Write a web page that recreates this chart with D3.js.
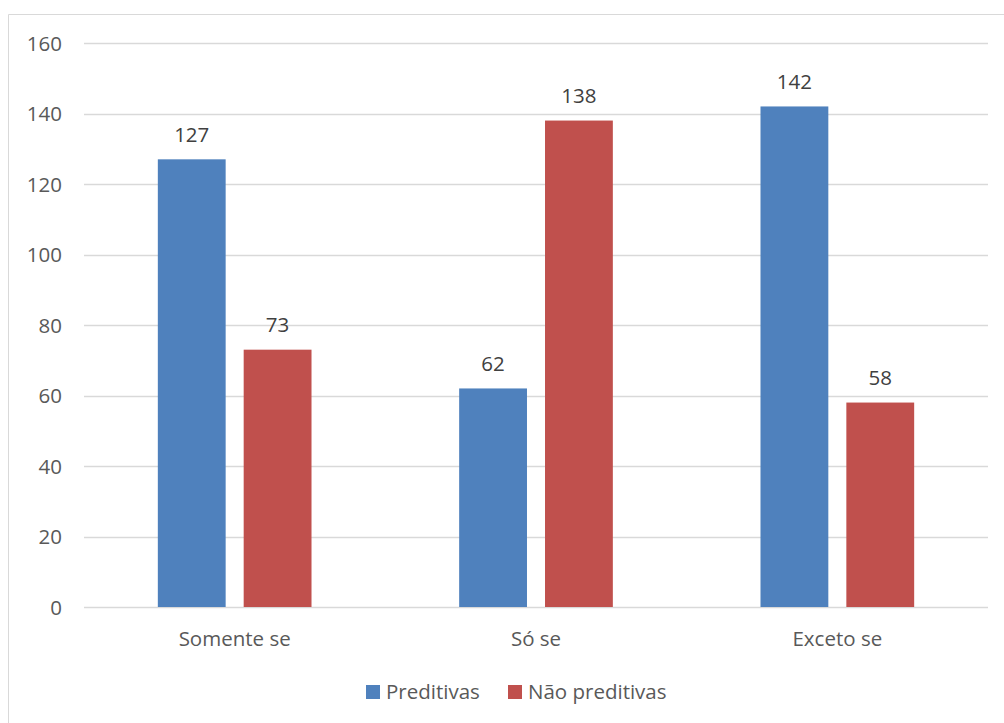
<!DOCTYPE html>
<html><head><meta charset="utf-8">
<script src="https://cdn.jsdelivr.net/npm/d3@7"></script>
<style>body{margin:0;background:#fff;}svg{display:block;}</style>
</head><body><svg id="c" width="1004" height="723"></svg>
<script>
const categories = ["Somente se", "Só se", "Exceto se"];
const series = ["Preditivas", "Não preditivas"];
const preditivas = [127, 62, 142];
const naoPreditivas = [73, 138, 58];
const yTicks = [0, 20, 40, 60, 80, 100, 120, 140, 160];
const colors = ["#4F81BD", "#C0504D"];

(function () {
const values = [preditivas, naoPreditivas];
const svg = d3.select("#c");
const font = "'Open Sans', sans-serif";
const fs = 20.5;

// chart area border
svg.append("path").attr("d", "M8.5,723 L8.5,14.5 L1004,14.5")
  .attr("fill", "none").attr("stroke", "#D9D9D9").attr("stroke-width", 1);

const pLeft = 84, pRight = 988, pTop = 43, pBottom = 607;
const y = d3.scaleLinear().domain([0, 160]).range([pBottom, pTop]);
const x0 = d3.scaleBand().domain(categories).range([pLeft, pRight]);
const gp = x0.bandwidth() * 0.245;
const x1 = d3.scaleBand().domain(series).range([gp, x0.bandwidth() - gp]).paddingInner(0.21);

// gridlines
svg.append("g").selectAll("line").data(yTicks).join("line")
  .attr("x1", pLeft).attr("x2", pRight)
  .attr("y1", d => Math.round(y(d)) + 0.5).attr("y2", d => Math.round(y(d)) + 0.5)
  .attr("stroke", "#D9D9D9").attr("stroke-width", 1.5);

// y tick labels
svg.append("g").selectAll("text").data(yTicks).join("text")
  .attr("x", 62).attr("y", d => y(d) + 7.5)
  .attr("text-anchor", "end").attr("font-family", font).attr("font-size", fs)
  .attr("fill", "#595959").text(d => d);

// bars
const groups = svg.append("g").selectAll("g").data(categories).join("g")
  .attr("transform", c => `translate(${x0(c)},0)`);
groups.selectAll("rect").data((c, i) => series.map((s, j) => ({s, j, v: values[j][i]}))).join("rect")
  .attr("x", d => x1(d.s)).attr("width", x1.bandwidth())
  .attr("y", d => y(d.v)).attr("height", d => y(0) - y(d.v))
  .attr("fill", d => colors[d.j]);
groups.selectAll("text").data((c, i) => series.map((s, j) => ({s, j, v: values[j][i]}))).join("text")
  .attr("x", d => x1(d.s) + x1.bandwidth() / 2).attr("y", d => y(d.v) - 17.5)
  .attr("text-anchor", "middle").attr("font-family", font).attr("font-size", fs)
  .attr("fill", "#404040").text(d => d.v);

// category labels
svg.append("g").selectAll("text").data(categories).join("text")
  .attr("x", c => x0(c) + x0.bandwidth() / 2).attr("y", pBottom + 39)
  .attr("text-anchor", "middle").attr("font-family", font).attr("font-size", fs)
  .attr("fill", "#595959").text(c => c);

// legend
const legX = [366, 508];
const leg = svg.append("g").selectAll("g").data(series).join("g")
  .attr("transform", (s, i) => `translate(${legX[i]},685)`);
leg.append("rect").attr("width", 14).attr("height", 14).attr("fill", (s, i) => colors[i]);
leg.append("text").attr("x", 20).attr("y", 14).attr("font-family", font).attr("font-size", fs)
  .attr("fill", "#595959").text(s => s);
})();
</script></body></html>
